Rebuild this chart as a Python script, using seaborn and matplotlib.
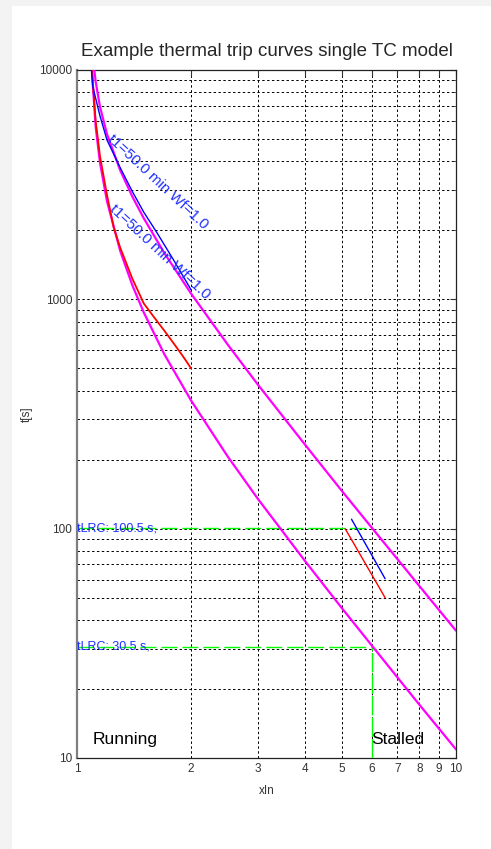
import numpy as np
import pandas as pd
import matplotlib
matplotlib.use("Agg")
import matplotlib.pyplot as plt
import seaborn as sns
from matplotlib.patches import Rectangle

# ---- data ----
x_cold = [1.11, 1.12, 1.15, 1.2, 1.3, 1.4, 1.5, 1.7, 2.0, 2.5, 3.0, 4.0, 5.0, 6.0, 7.0, 8.0, 10.0]
t_cold = [10129, 8908, 6902, 5253, 3654, 2803, 2258, 1592, 1059, 634, 425, 232, 146, 100.8, 73.8, 56.3, 35.9]

x_hot = [1.095, 1.1, 1.12, 1.15, 1.2, 1.3, 1.4, 1.5, 1.7, 2.0, 2.5, 3.0, 4.0, 5.0, 6.0, 7.0, 8.0, 10.0]
t_hot = [11140, 8833, 5657, 3939, 2676, 1627, 1151, 877, 576, 362, 206, 135, 72.1, 45.0, 30.9, 22.5, 17.1, 10.9]

x_run_red = [1.09, 1.1, 1.12, 1.15, 1.2, 1.25, 1.3, 1.4, 1.5, 1.6, 1.7, 1.8, 1.9, 2.0]
t_run_red = [11000, 9000, 6000, 4200, 2850, 2050, 1680, 1230, 960, 832, 730, 642, 567, 500]

x_run_blue = [1.09, 1.1, 1.15, 1.2, 1.3, 1.4, 1.5, 1.626, 1.8, 2.0]
t_run_blue = [10300, 8500, 6300, 4950, 3750, 2950, 2400, 1950, 1480, 1100]

x_stall_red = [5.1, 6.5]
t_stall_red = [100, 50]
x_stall_blue = [5.3, 6.5]
t_stall_blue = [110, 60.5]

t_lrc = [100.5, 30.5]
x_lrc = 6.0
lrc_labels = ["tLRC: 100.5 s,", "tLRC: 30.5 s,"]
curve_label = "t1=50.0 min Wf=1.0"
label_pos = [(1.222, 5105), (1.235, 2535)]

x_ticks = [1, 2, 3, 4, 5, 6, 7, 8, 9, 10]
y_ticks = [10, 100, 1000, 10000]

sns.set_style("white")
plt.rcParams['font.family'] = ['Liberation Sans', 'DejaVu Sans']

W, H = 491, 849
fig = plt.figure(figsize=(W / 100, H / 100), dpi=100)
fig.patch.set_facecolor("#f3f3f3")
fig.patches.append(Rectangle((12 / W, 0), 1 - 12 / W, 1 - 6 / H, transform=fig.transFigure,
                             facecolor="white", edgecolor="none", zorder=-10))
ax = fig.add_axes([77 / W, 1 - 758 / H, (456 - 77) / W, (758 - 70) / H])
ax.set_facecolor("white")
ax.set_xscale("log")
ax.set_yscale("log")
ax.set_xlim(1, 10)
ax.set_ylim(10, 10000)

def curve(xs, ts, color, lw):
    df = pd.DataFrame({"x": xs, "t": ts})
    sns.lineplot(data=df, x="x", y="t", ax=ax, color=color, lw=lw, sort=False,
                 estimator=None, legend=False, zorder=4)

curve(x_cold, t_cold, "#ff00ff", 1.6)
curve(x_hot, t_hot, "#ff00ff", 1.6)
curve(x_run_red, t_run_red, "#ff0000", 1.3)
curve(x_run_blue, t_run_blue, "#0000ff", 1.0)
curve(x_stall_red, t_stall_red, "#ff0000", 1.0)
curve(x_stall_blue, t_stall_blue, "#0000ff", 1.0)

# green LRC lines
for tv in t_lrc:
    ax.plot([1, x_lrc], [tv, tv], color="#00ff00", lw=1.0, dashes=(11.5, 3.6), zorder=3)
ax.plot([x_lrc, x_lrc], [10, t_lrc[1]], color="#00ff00", lw=1.0, dashes=(14, 1.5), zorder=3)

for tv, lab in zip(t_lrc, lrc_labels):
    ax.text(1.0, tv, lab, color="#2030ff", fontsize=9, ha="left", va="center", zorder=6)

for (xp, tp) in label_pos:
    ax.text(xp, tp, curve_label, color="#2030ff", fontsize=10.8, rotation=-43,
            rotation_mode="anchor", ha="left", va="center", zorder=6)

ax.text(1.1, 12.0, "Running", fontsize=12.5, ha="left", va="center", color="black")
ax.text(5.98, 12.0, "Stalled", fontsize=12.5, ha="left", va="center", color="black")

# grid
ax.grid(True, which="both", color="black", lw=0.7, linestyle=(0, (2.5, 2.5)))
ax.set_axisbelow(True)

ax.set_xticks(x_ticks)
ax.set_xticklabels([str(v) for v in x_ticks])
ax.xaxis.set_minor_locator(matplotlib.ticker.NullLocator())
ax.set_yticks(y_ticks)
ax.set_yticklabels([str(v) for v in y_ticks])
ax.tick_params(axis="both", which="both", direction="in", labelsize=8.5, colors="#333333",
               top=True, right=True, length=4)
ax.tick_params(axis="both", which="minor", length=2.5)

for s in ax.spines.values():
    s.set_color("#222222")
    s.set_linewidth(0.9)
ax.spines["left"].set_color("#7f7f7f")
ax.spines["left"].set_linewidth(1.6)

ax.set_title("Example thermal trip curves single TC model", fontsize=13.5, pad=10)
ax.set_xlabel("xIn", fontsize=8.5, color="#333333")
ax.set_ylabel("t[s]", fontsize=8.5, color="#333333")
ax.xaxis.set_label_coords(0.5, -(785 - 758) / 688)
ax.yaxis.set_label_coords(-(77 - 33) / 379, 0.5)

fig.savefig("out.png", dpi=100)
